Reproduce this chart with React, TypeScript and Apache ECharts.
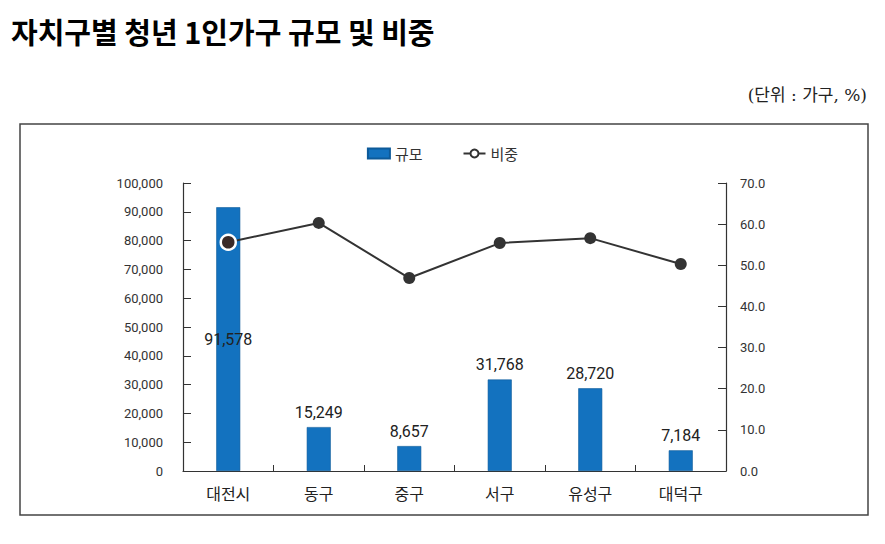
import React, { useEffect, useRef } from "react";
import * as echarts from "echarts";

const categories = ["대전시", "동구", "중구", "서구", "유성구", "대덕구"];
const sizeValues = [91578, 15249, 8657, 31768, 28720, 7184];
const shareValues = [55.6, 60.3, 46.9, 55.4, 56.6, 50.3];
const titleText = "자치구별 청년 1인가구 규모 및 비중";
const unitText = "(단위 : 가구, %)";
const seriesNames = ["규모", "비중"];

const FONT = "Roboto, 'Noto Sans CJK KR', sans-serif";
const KFONT = "'Noto Sans CJK KR', sans-serif";

export default function App() {
  const ref = useRef<HTMLDivElement>(null);
  useEffect(() => {
    if (!ref.current) return;
    const chart = echarts.init(ref.current, null, { renderer: "svg" });
    chart.setOption({
      animation: false,
      backgroundColor: "#fff",
      graphic: [
        {
          type: "text",
          left: 11,
          top: 16,
          style: { text: titleText, font: `bold 29px ${KFONT}`, fill: "#000" },
        },
        {
          type: "text",
          right: 18,
          top: 86,
          style: { text: unitText, font: `17px 'DejaVu Serif', 'Noto Sans CJK KR', serif`, fill: "#222" },
        },
        {
          type: "rect",
          shape: { x: 20, y: 124, width: 848, height: 391 },
          style: { fill: "none", stroke: "#444", lineWidth: 1.5 },
          z: -1,
        },
      ],
      legend: {
        top: 141,
        left: "center",
        itemGap: 40,
        itemWidth: 22,
        itemHeight: 10,
        textStyle: { fontFamily: KFONT, fontSize: 15, color: "#333" },
        data: [
          { name: seriesNames[0], icon: "rect" },
          { name: seriesNames[1] },
        ],
      },
      grid: { left: 183, right: 159, top: 183, bottom: 73, containLabel: false },
      xAxis: {
        type: "category",
        data: categories,
        axisLine: { lineStyle: { color: "#333", width: 1.2 } },
        axisTick: { show: true, inside: true, length: 6, alignWithLabel: false, lineStyle: { color: "#333" } },
        axisLabel: { fontFamily: KFONT, fontSize: 16, color: "#222", margin: 14 },
      },
      yAxis: [
        {
          type: "value",
          min: 0,
          max: 100000,
          interval: 10000,
          splitLine: { show: false },
          axisLine: { show: true, lineStyle: { color: "#333", width: 1.2 } },
          axisTick: { show: true, inside: true, length: 8, lineStyle: { color: "#333" } },
          axisLabel: {
            fontFamily: FONT,
            fontSize: 13,
            color: "#333",
            margin: 20,
            formatter: (v: number) => v.toLocaleString("en-US"),
          },
        },
        {
          type: "value",
          min: 0,
          max: 70,
          interval: 10,
          splitLine: { show: false },
          axisLine: { show: true, lineStyle: { color: "#333", width: 1.2 } },
          axisTick: { show: true, inside: true, length: 8, lineStyle: { color: "#333" } },
          axisLabel: {
            fontFamily: FONT,
            fontSize: 13,
            color: "#333",
            margin: 14,
            formatter: (v: number) => v.toFixed(1),
          },
        },
      ],
      series: [
        {
          name: seriesNames[0],
          type: "bar",
          barWidth: 24,
          itemStyle: { color: "#1372bf", borderColor: "#0d5a99", borderWidth: 0.6 },
          data: sizeValues.map((v, i) => ({
            value: v,
            label: {
              show: true,
              position: i === 0 ? "inside" : "top",
              distance: 7,
              formatter: (p: any) => Number(p.value).toLocaleString("en-US"),
              fontFamily: FONT,
              fontSize: 16,
              color: "#222",
            },
          })),
        },
        {
          name: seriesNames[1],
          type: "line",
          yAxisIndex: 1,
          symbol: "emptyCircle",
          symbolSize: 11,
          lineStyle: { color: "#333", width: 2 },
          itemStyle: { color: "#333" },
          z: 5,
          data: shareValues.map((v, i) =>
            i === 0
              ? {
                  value: v,
                  symbol: "circle",
                  symbolSize: 15,
                  itemStyle: { color: "#3a2a28", borderColor: "#fff", borderWidth: 2.5 },
                }
              : { value: v, symbol: "circle", symbolSize: 12, itemStyle: { color: "#333" } }
          ),
        },
      ],
    });
    return () => chart.dispose();
  }, []);
  return (
    <div
      ref={ref}
      style={{ position: "fixed", left: 0, top: 0, width: 885, height: 544 }}
    />
  );
}
